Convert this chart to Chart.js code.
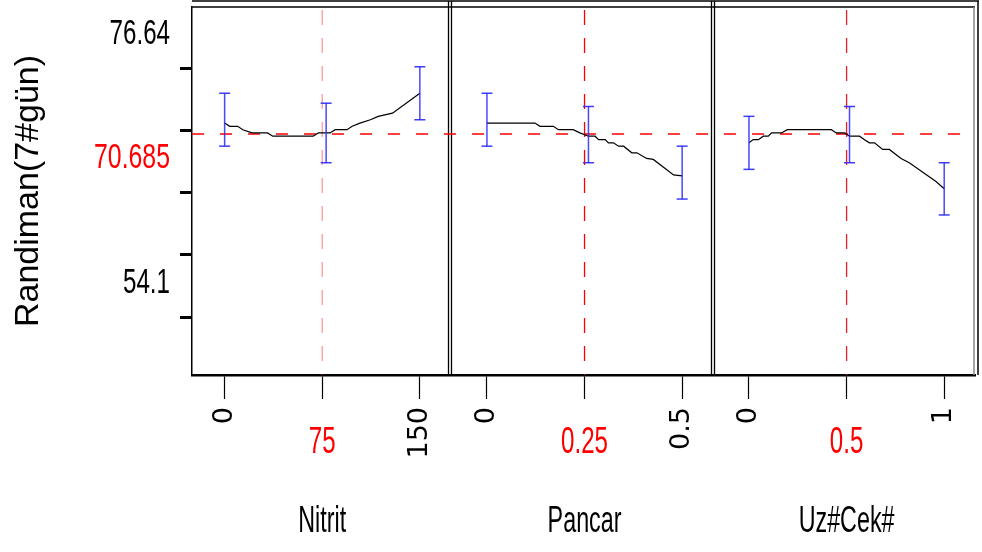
<!DOCTYPE html>
<html>
<head>
<meta charset="utf-8">
<title>Randiman prediction profiler</title>
<script src="https://cdn.jsdelivr.net/npm/chart.js@4.4.1/dist/chart.umd.min.js"></script>
<style>
  html, body { margin: 0; padding: 0; background: #fff; }
  canvas { display: block; }
</style>
</head>
<body>
<canvas id="profiler-chart" width="982" height="552"></canvas>
<script>
// Factors shown side by side, one panel each
const factorNames = ['Nitrit', 'Pancar', 'Uz#Cek#'];
const factorRanges = [[0, 150], [0, 0.5], [0, 1]];
const factorTickValues = [[0, 75, 150], [0, 0.25, 0.5], [0, 0.5, 1]];
const factorTickLabels = [['0', '75', '150'], ['0', '0.25', '0.5'], ['0', '0.5', '1']];
const factorCurrent = [75, 0.25, 0.5];
const factorCurrentLabels = ['75', '0.25', '0.5'];

// Response axis
const yMin = 48.86;
const yMax = 82.18;
const yTickValues = [76.64, 71.005, 65.37, 59.735, 54.1];
const yTickLabels = ['76.64', '', '', '', '54.1'];
const currentResponse = 70.685;
const currentResponseLabel = '70.685';
const yTitle = 'Randiman(7#gün)';

// Prediction traces
const nitritX = [0, 4, 10, 14, 21, 33, 37, 68, 72, 81, 85, 94, 98, 104, 112, 118, 129, 150];
const nitritY = [71.67, 71.38, 71.38, 71.07, 70.78, 70.78, 70.48, 70.48, 70.78, 70.78, 71.07, 71.07, 71.38, 71.67, 71.97, 72.28, 72.57, 74.37];

const pancarX = [0, 0.123, 0.136, 0.170, 0.183, 0.221, 0.238, 0.260, 0.277, 0.286, 0.303, 0.311, 0.324, 0.337, 0.350, 0.371, 0.384, 0.409, 0.426, 0.478, 0.5];
const pancarY = [71.67, 71.67, 71.38, 71.38, 71.07, 71.07, 70.78, 70.48, 70.48, 70.17, 70.17, 69.88, 69.88, 69.58, 69.58, 68.98, 68.98, 68.47, 68.38, 66.98, 66.89];

const uzcekX = [0, 0.022, 0.048, 0.073, 0.099, 0.116, 0.167, 0.196, 0.422, 0.447, 0.490, 0.515, 0.566, 0.592, 0.617, 0.643, 0.685, 0.719, 0.779, 0.821, 0.958, 1];
const uzcekY = [69.88, 70.17, 70.17, 70.48, 70.48, 70.78, 70.78, 71.07, 71.07, 70.78, 70.78, 70.48, 70.48, 70.17, 69.88, 69.88, 69.28, 69.28, 68.47, 68.08, 66.38, 65.72];

// Confidence bars
const nitritBarX = [0, 78, 150];
const nitritBarHi = [74.37, 73.47, 76.77];
const nitritBarLo = [69.58, 68.08, 71.97];

const pancarBarX = [0, 0.26, 0.5];
const pancarBarHi = [74.37, 73.17, 69.58];
const pancarBarLo = [69.58, 68.08, 64.79];

const uzcekBarX = [0, 0.515, 1];
const uzcekBarHi = [72.28, 73.17, 68.08];
const uzcekBarLo = [67.48, 68.08, 63.35];

const traces = [[nitritX, nitritY], [pancarX, pancarY], [uzcekX, uzcekY]];
const bars = [
    [nitritBarX, nitritBarHi, nitritBarLo],
    [pancarBarX, pancarBarHi, pancarBarLo],
    [uzcekBarX, uzcekBarHi, uzcekBarLo]
];

// Layout of the panels on the shared x scale (each panel is one unit wide)
const PANEL_START = [0.125, 0.13, 0.134];
const PANEL_SPAN = 0.748;
const PANEL_EDGES = [0.99, 1.998];
const vLineColors = ['rgba(255,70,70,0.55)', '#ff0000', '#e4202a'];

// Map a factor value into its panel on the shared scale
function toPanel(i, v) {
    const [lo, hi] = factorRanges[i];
    return i + PANEL_START[i] + (v - lo) / (hi - lo) * PANEL_SPAN;
}

// Tick positions and texts for the bottom axis
const xTickPos = [];
const xTickText = [];
factorTickValues.forEach((vals, i) => {
    vals.forEach((v, j) => {
        xTickPos.push(toPanel(i, v));
        // middle value is drawn separately in red
        xTickText.push(j === 1 ? '' : factorTickLabels[i][j]);
    });
});

// Build datasets: bars and traces first so they sit on top of the dashed lines
const datasets = [];
bars.forEach(([bx, hi, lo], i) => {
    const pts = [];
    bx.forEach((v, k) => {
        const px = toPanel(i, v);
        pts.push({ x: px, y: hi[k] }, { x: px, y: lo[k] }, { x: px, y: null });
    });
    datasets.push({
        data: pts,
        borderColor: 'rgba(40,40,255,0.85)',
        borderWidth: 1.5,
        pointStyle: 'line',
        pointRadius: 5.5,
        pointBorderWidth: 1.5,
        pointBorderColor: 'rgba(40,40,255,0.9)',
        spanGaps: false
    });
});
traces.forEach(([tx, ty], i) => {
    datasets.push({
        data: tx.map((v, k) => ({ x: toPanel(i, v), y: ty[k] })),
        borderColor: '#000',
        borderWidth: 1.2,
        pointRadius: 0,
        tension: 0
    });
});
factorCurrent.forEach((v, i) => {
    const px = toPanel(i, v);
    datasets.push({
        data: [{ x: px, y: yMax }, { x: px, y: yMin }],
        borderColor: vLineColors[i],
        borderWidth: 1.3,
        borderDash: [15, 13],
        borderDashOffset: -3,
        pointRadius: 0
    });
});
datasets.push({
    data: [{ x: 0, y: currentResponse }, { x: 3, y: currentResponse }],
    borderColor: '#ff0000',
    borderWidth: 1.5,
    borderDash: [12, 16],
    pointRadius: 0
});

// Helper: condensed, tall text like the original renderer
function narrowText(ctx, text, x, y, size, color, sx, align) {
    ctx.save();
    ctx.translate(x, y);
    ctx.scale(sx, 1);
    ctx.font = size + 'px "Liberation Sans", Arial, sans-serif';
    ctx.fillStyle = color;
    ctx.textAlign = align;
    ctx.textBaseline = 'middle';
    ctx.fillText(text, 0, 0);
    ctx.restore();
}

// Double frames round each panel
const panelFrames = {
    id: 'panelFrames',
    beforeDatasetsDraw(chart) {
        const { ctx, chartArea: a, scales: { x } } = chart;
        const line = (x1, y1, x2, y2, color, w) => {
            ctx.beginPath();
            ctx.strokeStyle = color;
            ctx.lineWidth = w;
            ctx.moveTo(x1, y1);
            ctx.lineTo(x2, y2);
            ctx.stroke();
        };
        ctx.save();
        line(a.left, 1, a.right + 4, 1, '#000', 1.5);
        line(a.left, a.top, a.right, a.top, '#000', 1.5);
        PANEL_EDGES.forEach(e => {
            const px = Math.round(x.getPixelForValue(e));
            line(px - 1.5, 1, px - 1.5, a.bottom, '#000', 1.3);
            line(px + 1.5, 1, px + 1.5, a.bottom, '#000', 1.3);
        });
        line(a.right - 1, a.top, a.right - 1, a.bottom, '#888', 1.5);
        line(a.right + 3, 1, a.right + 3, a.bottom, '#000', 1.5);
        ctx.restore();
    }
};

// Response labels, red current-value labels and factor names
const profilerText = {
    id: 'profilerText',
    afterDraw(chart) {
        const { ctx, scales: { x, y } } = chart;
        // black labels sit a little above their ticks
        yTickValues.forEach((v, k) => {
            if (yTickLabels[k]) {
                narrowText(ctx, yTickLabels[k], 170, y.getPixelForValue(v) - 34, 35, '#000', 0.69, 'right');
            }
        });
        narrowText(ctx, currentResponseLabel, 170, y.getPixelForValue(currentResponse) + 24, 35, '#ff0000', 0.71, 'right');
        factorCurrent.forEach((v, i) => {
            const px = x.getPixelForValue(toPanel(i, v));
            narrowText(ctx, factorCurrentLabels[i], px, 443, 36, '#ff0000', 0.67, 'center');
            narrowText(ctx, factorNames[i], px, 522, 37, '#000', 0.63, 'center');
        });
    }
};

// Drop the automatic label padding so the plot fills the frame
function noEdgePadding(scale) {
    scale.paddingTop = 0;
    scale.paddingBottom = 0;
    scale.paddingLeft = 0;
    scale.paddingRight = 0;
}

new Chart(document.getElementById('profiler-chart'), {
    type: 'line',
    data: { datasets },
    options: {
        responsive: false,
        animation: false,
        layout: { padding: { top: 5, right: 7, bottom: 0, left: 0 } },
        plugins: { legend: { display: false }, tooltip: { enabled: false } },
        scales: {
            x: {
                type: 'linear',
                min: 0,
                max: 3,
                afterFit: scale => { scale.height = 177; noEdgePadding(scale); },
                afterBuildTicks: scale => { scale.ticks = xTickPos.map(v => ({ value: v })); },
                grid: { drawOnChartArea: false, tickLength: 24, tickColor: '#000', tickWidth: 1.2 },
                border: { color: '#000', width: 2.5 },
                ticks: {
                    autoSkip: false,
                    minRotation: 90,
                    maxRotation: 90,
                    padding: 8,
                    color: '#000',
                    font: { family: 'DejaVu Sans', size: 27 },
                    callback: (v, idx) => xTickText[idx]
                }
            },
            y: {
                type: 'linear',
                min: yMin,
                max: yMax,
                afterFit: scale => { scale.width = 192; noEdgePadding(scale); },
                afterBuildTicks: scale => { scale.ticks = yTickValues.map(v => ({ value: v })); },
                grid: { drawOnChartArea: false, tickLength: 12, tickColor: '#000', tickWidth: 3 },
                border: { color: '#000', width: 1.5 },
                ticks: {
                    // labels are drawn by profilerText
                    callback: () => ''
                },
                title: {
                    display: true,
                    text: yTitle,
                    color: '#000',
                    padding: { top: 8, bottom: 0 },
                    font: { family: 'Liberation Sans', size: 34 }
                }
            }
        }
    },
    plugins: [panelFrames, profilerText]
});
</script>
</body>
</html>
